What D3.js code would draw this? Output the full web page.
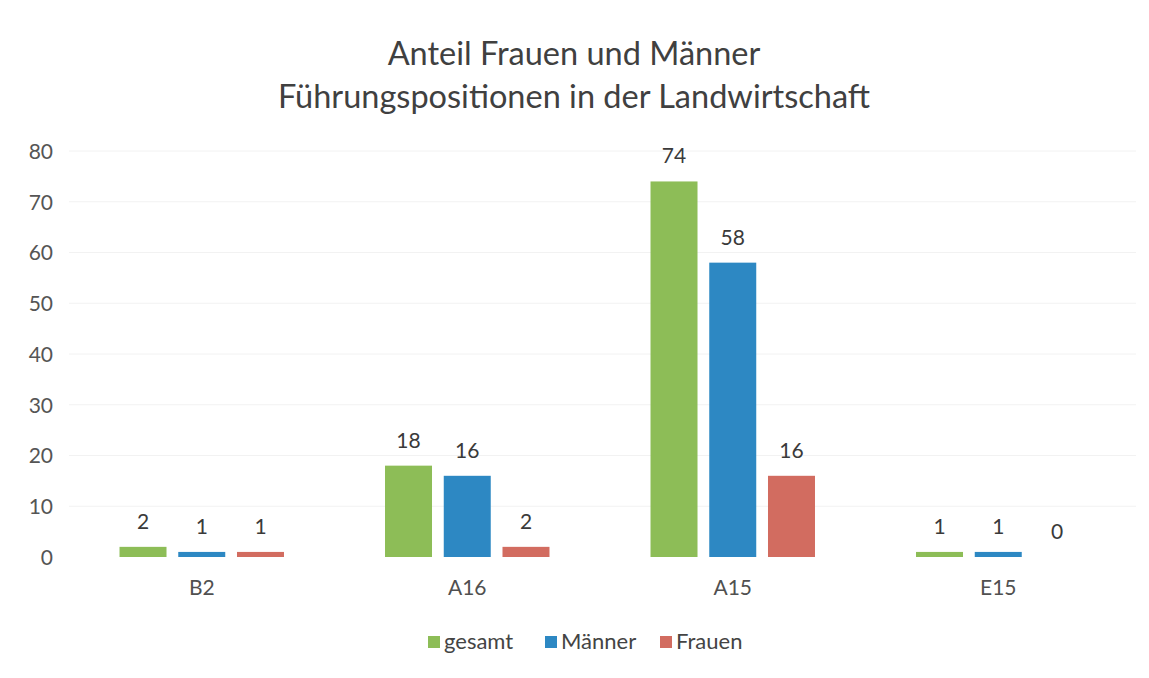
<!DOCTYPE html>
<html>
<head>
<meta charset="utf-8">
<script src="https://cdn.jsdelivr.net/npm/d3@7"></script>
<style>
  html, body { margin: 0; padding: 0; background: #fff; }
  svg { display: block; font-family: Lato, "Open Sans", sans-serif; }
</style>
</head>
<body>
<svg id="chart" width="1149" height="678"></svg>
<script>
// Führungspositionen nach Besoldungs-/Entgeltgruppe
const categories = ["B2", "A16", "A15", "E15"];
const seriesNames = ["gesamt", "Männer", "Frauen"];
const gesamt = [2, 18, 74, 1];
const maenner = [1, 16, 58, 1];
const frauen = [1, 2, 16, 0];
const yTicks = [0, 10, 20, 30, 40, 50, 60, 70, 80];
const titleLines = ["Anteil Frauen und Männer", "Führungspositionen in der Landwirtschaft"];

const seriesValues = [gesamt, maenner, frauen];
const colors = ["#8dbd57", "#2d88c3", "#d26c60"];

const svg = d3.select("#chart");
const plot = { left: 69, right: 1131, top: 151, bottom: 557 };

const x0 = d3.scaleBand().domain(categories).range([plot.left, plot.right]).padding(0);
const x1 = d3.scaleBand().domain(seriesNames).range([0, x0.bandwidth()])
  .paddingInner(0.2).paddingOuter(0.86);
const y = d3.scaleLinear().domain([0, 80]).range([plot.bottom, plot.top]);

// Titel (zweizeilig)
svg.append("g").selectAll("text").data(titleLines).join("text")
  .attr("x", 574).attr("y", (d, i) => 65 + i * 43)
  .attr("text-anchor", "middle")
  .attr("font-size", 32.5)
  .attr("fill", "#404040")
  .text(d => d);

// Gitterlinien
svg.append("g").selectAll("line").data(yTicks.slice(1)).join("line")
  .attr("x1", plot.left).attr("x2", plot.right + 5)
  .attr("y1", d => y(d)).attr("y2", d => y(d))
  .attr("stroke", "#f2f2f2").attr("stroke-width", 1);

// y-Achse
const yAxis = svg.append("g")
  .attr("transform", `translate(${plot.left - 16},0)`)
  .call(d3.axisLeft(y).tickValues(yTicks).tickSize(0).tickPadding(0));
yAxis.select(".domain").remove();
yAxis.selectAll("text")
  .attr("font-size", 21).attr("fill", "#555").attr("font-family", "Lato, sans-serif")
  .attr("dy", "0.35em");

// x-Achse
const xAxis = svg.append("g")
  .attr("transform", `translate(0,${plot.bottom})`)
  .call(d3.axisBottom(x0).tickSize(0).tickPadding(23));
xAxis.select(".domain").remove();
xAxis.selectAll("text")
  .attr("font-size", 21).attr("fill", "#505050").attr("font-family", "Lato, sans-serif");

// Balken je Kategorie und Reihe
const rows = categories.map((c, i) => ({
  cat: c,
  vals: seriesNames.map((s, j) => ({ key: s, value: seriesValues[j][i], color: colors[j] }))
}));

const groups = svg.append("g").selectAll("g").data(rows).join("g")
  .attr("transform", d => `translate(${x0(d.cat)},0)`);

groups.selectAll("rect").data(d => d.vals).join("rect")
  .attr("x", d => x1(d.key))
  .attr("width", x1.bandwidth())
  .attr("y", d => y(d.value))
  .attr("height", d => Math.max(0, y(0) - y(d.value)))
  .attr("fill", d => d.color);

// Datenbeschriftungen
groups.selectAll("text").data(d => d.vals).join("text")
  .attr("x", d => x1(d.key) + x1.bandwidth() / 2)
  .attr("y", d => y(d.value) - 18)
  .attr("text-anchor", "middle")
  .attr("font-size", 21)
  .attr("fill", "#3a3a3a")
  .text(d => d.value);

// Legende
const legendItems = [
  { name: "gesamt", color: colors[0], x: 428 },
  { name: "Männer", color: colors[1], x: 545 },
  { name: "Frauen", color: colors[2], x: 660 }
];
const legend = svg.append("g").selectAll("g").data(legendItems).join("g")
  .attr("transform", d => `translate(${d.x},636)`);
legend.append("rect").attr("width", 12).attr("height", 12).attr("fill", d => d.color);
legend.append("text").attr("x", 16).attr("y", 13)
  .attr("font-size", 22).attr("fill", "#444").text(d => d.name);
</script>
</body>
</html>
